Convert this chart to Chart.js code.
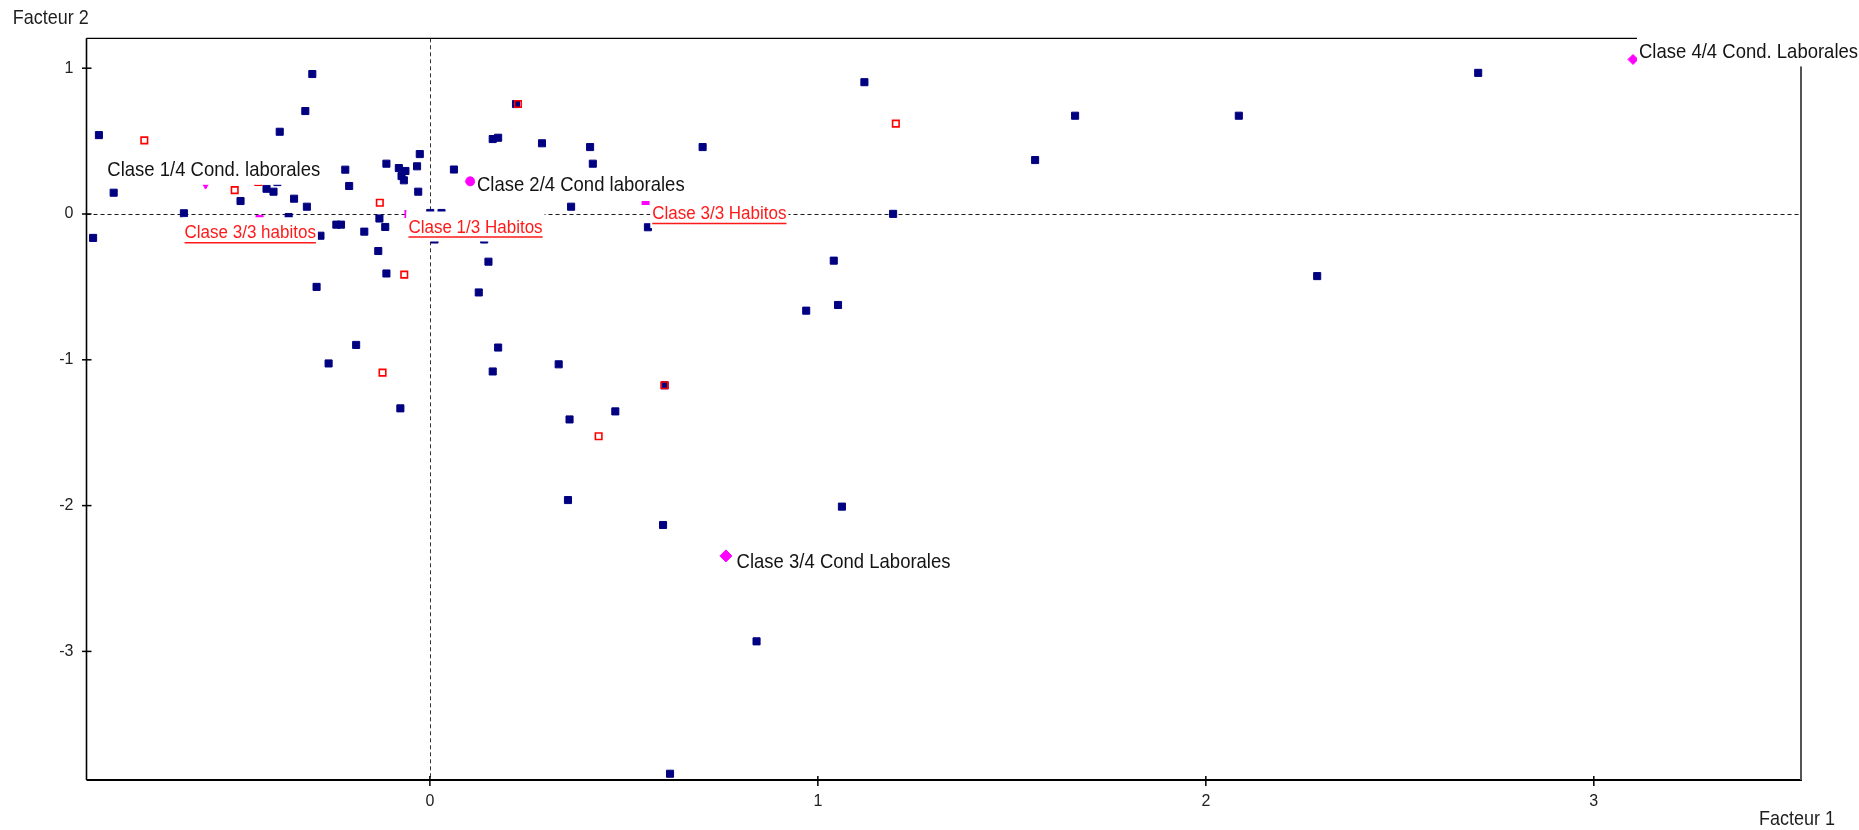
<!DOCTYPE html>
<html>
<head>
<meta charset="utf-8">
<title>Plan factoriel 1-2</title>
<script src="https://cdn.jsdelivr.net/npm/chart.js@4/dist/chart.umd.min.js"></script>
<style>
  html, body { margin: 0; padding: 0; background: #ffffff; }
  canvas { display: block; }
</style>
</head>
<body>
<canvas id="plan" width="1859" height="830"></canvas>
<script>
// Individuals (active points) on factors 1 and 2
const indivX = [
  -0.853, -0.815, -0.868, -0.634, -0.303, -0.321, -0.387, -0.488, -0.421, -0.403,
  -0.350, -0.317, -0.218, -0.208, -0.112, -0.080, -0.063, -0.073, -0.067, -0.026,
  -0.033, -0.030, -0.241, -0.229, -0.169, -0.130, -0.115, -0.282, -0.364, -0.133,
  -0.112, -0.292, -0.190, -0.261, -0.076, -0.393,  0.001,  0.030,  0.012,  0.140,
   0.062,  0.222,  0.162,  0.176,  0.289,  0.413,  0.420,  0.703,  0.364,  0.562,
   0.151,  0.126,  0.176,  0.162,  0.332,  0.360,  0.356,  0.478,  0.605,  0.601,
   0.619,  0.842,  0.970,  1.052,  1.041,  1.062,  1.120,  1.194,  1.560,  1.663,
   2.085,  2.287,  2.702
];
const indivY = [
   0.541,  0.146, -0.164,  0.005,  0.960,  0.706,  0.564,  0.089,  0.173,  0.153,
   0.105,  0.050,  0.304,  0.192,  0.345,  0.315,  0.295,  0.260,  0.231,  0.411,
   0.327,  0.153, -0.073, -0.073, -0.121, -0.031, -0.089, -0.149, -0.021, -0.254,
  -0.408, -0.500, -0.898, -1.025, -1.333,  0.219,  0.007,  0.007, -0.175, -0.175,
   0.305,  0.754,  0.514,  0.523,  0.485,  0.459,  0.345,  0.459,  0.050, -0.091,
  -0.327, -0.538, -0.916, -1.080, -1.031, -1.409, -1.962, -1.354, -1.175, -2.133,
  -3.839, -2.931, -0.663, -0.624, -0.320, -2.007,  0.904,  0.001,  0.370,  0.674,
   0.674, -0.426,  0.968
];

// Supplementary points
const supX = [-0.736, -0.503, -0.442, -0.129, -0.066, -0.122, 0.227, 0.435, 0.605, 1.201];
const supY = [ 0.505,  0.164,  0.219,  0.077, -0.416, -1.088, 0.754, -1.524, -1.175, 0.620];

// Class centres (modalities)
const classNames = [
  'Clase 1/4 Cond. laborales',
  'Clase 2/4 Cond laborales',
  'Clase 3/4 Cond Laborales',
  'Clase 4/4 Cond. Laborales',
  'Clase 3/3 habitos',
  'Clase 1/3 Habitos',
  'Clase 3/3 Habitos'
];
const classX = [-0.578, 0.104,  0.763, 3.101, -0.439, -0.063, 0.556];
const classY = [ 0.212, 0.224, -2.345, 1.060, -0.034,  0.000, 0.075];

// Axis ticks
const xTickValues = [0, 1, 2, 3];
const yTickValues = [1, 0, -1, -2, -3];

// ---- presentation ----
const NAVY = '#000080';
const RED = '#ff1a1a';
const MAGENTA = '#ff00ff';
const FONT = '"Liberation Sans", Arial, sans-serif';

const classMarker = [
  { style: 'triangle', rot: 180, r: 6,   bw: 1 },
  { style: 'circle',   rot: 0,   r: 4.5, bw: 1 },
  { style: 'rectRot',  rot: 0,   r: 6,   bw: 1 },
  { style: 'rectRot',  rot: 0,   r: 5,   bw: 1 },
  { style: 'rect',     rot: 0,   r: 5,   bw: 1 },
  { style: 'line',     rot: 90,  r: 4,   bw: 2 },
  { style: 'line',     rot: 0,   r: 4,   bw: 4 }
];
// label placement relative to its marker: [dx to text start, dy to text middle], kind
const classLabelLayout = [
  { dx: -98.3, dy: -12.3, kind: 'dark' },
  { dx: 6.7,   dy: 4.4,   kind: 'dark' },
  { dx: 10.7,  dy: 6.2,   kind: 'dark' },
  { dx: 6,     dy: -7,    kind: 'dark' },
  { dx: -75,   dy: 14.3,  kind: 'red'  },
  { dx: 3,     dy: 13.5,  kind: 'red'  },
  { dx: 6.7,   dy: 11,    kind: 'red'  }
];

const toPoints = (xs, ys) => xs.map((v, i) => ({ x: v, y: ys[i] }));

const planDecor = {
  id: 'planDecor',
  beforeDatasetsDraw(chart) {
    const { ctx, chartArea: a, scales: { x, y } } = chart;
    const x0 = Math.round(x.getPixelForValue(0)) + 0.5;
    const y0 = Math.round(y.getPixelForValue(0)) + 0.5;
    ctx.save();
    // origin lines
    ctx.lineWidth = 1;
    ctx.strokeStyle = '#1a1a1a';
    ctx.setLineDash([4, 3]);
    ctx.beginPath(); ctx.moveTo(a.left, y0); ctx.lineTo(a.right, y0); ctx.stroke();
    ctx.strokeStyle = '#333333';
    ctx.beginPath(); ctx.moveTo(x0, a.top); ctx.lineTo(x0, a.bottom); ctx.stroke();
    ctx.setLineDash([]);
    // frame
    ctx.strokeStyle = '#000000';
    ctx.lineWidth = 1.3;
    ctx.beginPath(); ctx.moveTo(a.left, a.top); ctx.lineTo(a.right, a.top); ctx.stroke();
    ctx.lineWidth = 1.6;
    ctx.beginPath(); ctx.moveTo(a.left, a.top); ctx.lineTo(a.left, a.bottom); ctx.stroke();
    ctx.lineWidth = 2;
    ctx.beginPath(); ctx.moveTo(a.left, a.bottom); ctx.lineTo(a.right + 1, a.bottom); ctx.stroke();
    ctx.strokeStyle = '#555555';
    ctx.beginPath(); ctx.moveTo(a.right, a.top); ctx.lineTo(a.right, a.bottom); ctx.stroke();
    // tick marks crossing the axes
    ctx.strokeStyle = '#000000';
    ctx.lineWidth = 1.5;
    yTickValues.forEach(v => {
      const p = y.getPixelForValue(v);
      ctx.beginPath(); ctx.moveTo(a.left - 4.5, p); ctx.lineTo(a.left + 5, p); ctx.stroke();
    });
    xTickValues.forEach(v => {
      const p = x.getPixelForValue(v);
      ctx.beginPath(); ctx.moveTo(p, a.bottom - 4); ctx.lineTo(p, a.bottom + 6); ctx.stroke();
    });
    ctx.restore();
  },
  afterDatasetsDraw(chart) {
    const { ctx, chartArea: a, scales: { x, y } } = chart;
    ctx.save();
    classNames.forEach((name, i) => {
      const lay = classLabelLayout[i];
      const px = x.getPixelForValue(classX[i]);
      const py = y.getPixelForValue(classY[i]);
      const lx = px + lay.dx;
      const cy = py + lay.dy;
      const red = lay.kind === 'red';
      ctx.font = (red ? '17px ' : '18.5px ') + FONT;
      const w = ctx.measureText(name).width;
      ctx.fillStyle = '#ffffff';
      ctx.fillRect(lx - 2, cy - 16, w + 4, 30);
      ctx.save();
      ctx.translate(lx, cy);
      ctx.scale(1, 1.1);
      ctx.textAlign = 'left';
      ctx.textBaseline = 'middle';
      ctx.fillStyle = red ? RED : '#141414';
      ctx.fillText(name, 0, 0);
      ctx.restore();
      if (red) {
        ctx.strokeStyle = RED;
        ctx.lineWidth = 1.5;
        ctx.beginPath();
        ctx.moveTo(lx, cy + 9.5);
        ctx.lineTo(lx + w, cy + 9.5);
        ctx.stroke();
      }
    });
    // axis names
    ctx.font = '18px ' + FONT;
    ctx.fillStyle = '#1e1e1e';
    ctx.textBaseline = 'middle';
    ctx.textAlign = 'left';
    ctx.save(); ctx.translate(12.7, 19); ctx.scale(1, 1.1); ctx.fillText('Facteur 2', 0, 0); ctx.restore();
    ctx.textAlign = 'right';
    ctx.save(); ctx.translate(a.right + 34, 820); ctx.scale(1, 1.1); ctx.fillText('Facteur 1', 0, 0); ctx.restore();
    ctx.restore();
  }
};

new Chart(document.getElementById('plan'), {
  type: 'scatter',
  data: {
    datasets: [
      {
        label: 'Individus',
        data: toPoints(indivX, indivY),
        pointStyle: 'rect',
        pointRadius: 5,
        backgroundColor: NAVY,
        borderColor: NAVY,
        borderWidth: 1,
        order: 3
      },
      {
        label: 'Supplémentaires',
        data: toPoints(supX, supY),
        pointStyle: 'rect',
        pointRadius: 4.6,
        backgroundColor: 'rgba(0,0,0,0)',
        borderColor: '#ff0000',
        borderWidth: 1.6,
        order: 2
      },
      {
        label: 'Classes',
        data: toPoints(classX, classY),
        pointStyle: classMarker.map(m => m.style),
        rotation: classMarker.map(m => m.rot),
        pointRadius: classMarker.map(m => m.r),
        borderWidth: classMarker.map(m => m.bw),
        backgroundColor: MAGENTA,
        borderColor: MAGENTA,
        order: 1
      }
    ]
  },
  options: {
    responsive: false,
    devicePixelRatio: 1,
    animation: false,
    events: [],
    layout: { padding: { left: 0, top: 38.3, right: 58, bottom: 0 } },
    plugins: { legend: { display: false }, tooltip: { enabled: false } },
    scales: {
      x: {
        type: 'linear',
        min: -0.885,
        max: 3.534,
        grid: { display: false, drawTicks: false },
        border: { display: false },
        afterFit: s => { s.height = 50; },
        afterBuildTicks: s => { s.ticks = xTickValues.map(v => ({ value: v })); },
        ticks: {
          autoSkip: false,
          maxRotation: 0,
          padding: 12,
          color: '#222222',
          font: { family: FONT, size: 16 },
          callback: v => String(v)
        }
      },
      y: {
        type: 'linear',
        min: -3.882,
        max: 1.205,
        grid: { display: false, drawTicks: false },
        border: { display: false },
        afterFit: s => { s.width = 86.5; },
        afterBuildTicks: s => { s.ticks = yTickValues.map(v => ({ value: v })); },
        ticks: {
          autoSkip: false,
          padding: 13,
          color: '#222222',
          font: { family: FONT, size: 16 },
          callback: v => String(v)
        }
      }
    }
  },
  plugins: [planDecor]
});
</script>
</body>
</html>
